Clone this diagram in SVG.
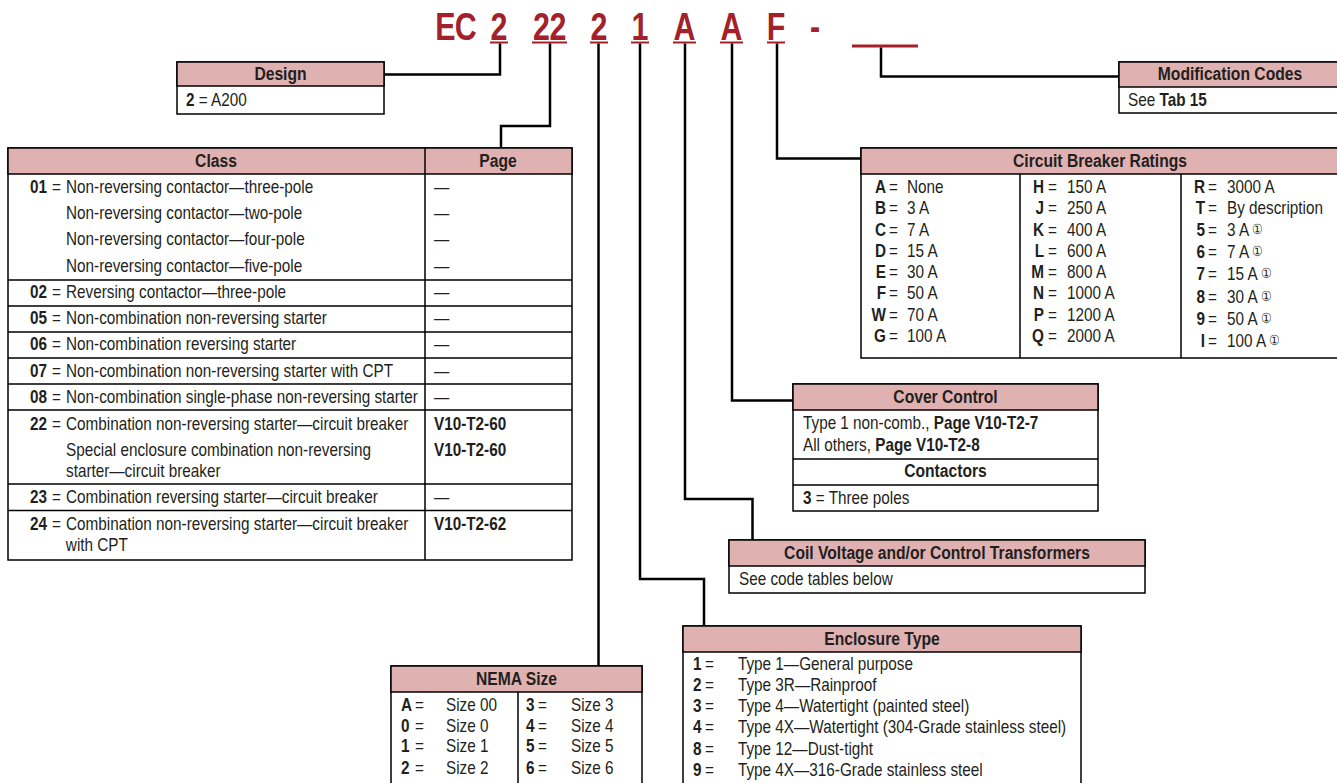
<svg xmlns="http://www.w3.org/2000/svg" width="1337" height="783" viewBox="0 0 1337 783">
<style>
.t{font-family:"Liberation Sans",Arial,sans-serif;font-size:18px;fill:#231f20;transform-box:fill-box;transform-origin:0 0;transform:scaleX(0.85)}
.b{font-weight:bold}
.h{font-weight:bold;text-anchor:middle;transform-origin:50% 0;transform:scaleX(0.87)}
.e{text-anchor:end;font-weight:bold;transform-origin:100% 0}
.c{font-size:14px;font-weight:normal}
.box{fill:#fff;stroke:#000;stroke-width:1.5}
.hdr{fill:#e0b1b1;stroke:#000;stroke-width:1.5}
.ln{stroke:#000;stroke-width:1.5;fill:none}
.conn{fill:none;stroke:#000;stroke-width:2.5}
.code{font-family:"Liberation Sans",Arial,sans-serif;font-weight:bold;font-size:38px;fill:#a3212a;text-anchor:middle;transform-box:fill-box;transform-origin:50% 0;transform:scaleX(0.8)}
.ul{fill:#a3212a}
</style>
<rect width="1337" height="783" fill="#fff"/>

<g id="catalog-code">
<text class="code" x="455.5" y="40" letter-spacing="-1">EC</text>
<text class="code" x="499" y="40">2</text>
<text class="code" x="549.5" y="40" letter-spacing="-0.5">22</text>
<text class="code" x="599" y="40">2</text>
<text class="code" x="640" y="40">1</text>
<text class="code" x="684.5" y="40">A</text>
<text class="code" x="731.5" y="40">A</text>
<text class="code" x="776" y="40">F</text>
<text class="code" x="815" y="40">-</text>
<rect class="ul" x="490" y="41.5" width="18" height="2"/>
<rect class="ul" x="532" y="41.5" width="35" height="2"/>
<rect class="ul" x="590" y="41.5" width="18" height="2"/>
<rect class="ul" x="631" y="41.5" width="18" height="2"/>
<rect class="ul" x="673" y="41.5" width="23" height="2"/>
<rect class="ul" x="720" y="41.5" width="23" height="2"/>
<rect class="ul" x="767" y="41.5" width="18" height="2"/>
<rect class="ul" x="852" y="44.5" width="66" height="3"/>
</g>

<g id="connectors">
<path class="conn" d="M500,43.5 V74.5 H384"/>
<path class="conn" d="M550,43.5 V126 H501 V148"/>
<path class="conn" d="M598.5,43.5 V666"/>
<path class="conn" d="M640,43.5 V579 H704 V626"/>
<path class="conn" d="M685,43.5 V499 H752.5 V540"/>
<path class="conn" d="M732,43.5 V400.5 H793"/>
<path class="conn" d="M777,43.5 V158.5 H861"/>
<path class="conn" d="M881,47.5 V76.5 H1119"/>
</g>

<g id="design">
<rect class="box" x="177" y="62" width="207" height="52"/>
<rect class="hdr" x="177" y="62" width="207" height="24"/>
<text class="t h" x="280.5" y="80">Design</text>
<text class="t" x="186" y="106"><tspan class="b">2</tspan> = A200</text>
</g>

<g id="class">
<rect class="box" x="8" y="148" width="564" height="412"/>
<rect class="hdr" x="8" y="148" width="564" height="26"/>
<text class="t h" x="216" y="167">Class</text>
<text class="t h" x="498" y="167">Page</text>
<path class="ln" d="M425,148 V560 M8,280 H572 M8,306 H572 M8,332 H572 M8,358 H572 M8,384 H572 M8,410 H572 M8,484 H572 M8,510.5 H572"/>
<text class="t b" x="30" y="193">01</text><text class="t" x="52" y="193">=</text><text class="t" x="66" y="193">Non-reversing contactor—three-pole</text>
<text class="t" x="66" y="219">Non-reversing contactor—two-pole</text>
<text class="t" x="66" y="245">Non-reversing contactor—four-pole</text>
<text class="t" x="66" y="272">Non-reversing contactor—five-pole</text>
<text class="t b" x="30" y="298">02</text><text class="t" x="52" y="298">=</text><text class="t" x="66" y="298">Reversing contactor—three-pole</text>
<text class="t b" x="30" y="324">05</text><text class="t" x="52" y="324">=</text><text class="t" x="66" y="324">Non-combination non-reversing starter</text>
<text class="t b" x="30" y="350">06</text><text class="t" x="52" y="350">=</text><text class="t" x="66" y="350">Non-combination reversing starter</text>
<text class="t b" x="30" y="377">07</text><text class="t" x="52" y="377">=</text><text class="t" x="66" y="377">Non-combination non-reversing starter with CPT</text>
<text class="t b" x="30" y="403">08</text><text class="t" x="52" y="403">=</text><text class="t" x="66" y="403">Non-combination single-phase non-reversing starter</text>
<text class="t b" x="30" y="430">22</text><text class="t" x="52" y="430">=</text><text class="t" x="66" y="430">Combination non-reversing starter—circuit breaker</text>
<text class="t" x="66" y="456">Special enclosure combination non-reversing</text>
<text class="t" x="66" y="477">starter—circuit breaker</text>
<text class="t b" x="30" y="503">23</text><text class="t" x="52" y="503">=</text><text class="t" x="66" y="503">Combination reversing starter—circuit breaker</text>
<text class="t b" x="30" y="530">24</text><text class="t" x="52" y="530">=</text><text class="t" x="66" y="530">Combination non-reversing starter—circuit breaker</text>
<text class="t" x="66" y="551">with CPT</text>
<text class="t" x="434" y="193">—</text>
<text class="t" x="434" y="219">—</text>
<text class="t" x="434" y="245">—</text>
<text class="t" x="434" y="272">—</text>
<text class="t" x="434" y="298">—</text>
<text class="t" x="434" y="324">—</text>
<text class="t" x="434" y="350">—</text>
<text class="t" x="434" y="377">—</text>
<text class="t" x="434" y="403">—</text>
<text class="t b" x="434" y="430">V10-T2-60</text>
<text class="t b" x="434" y="456">V10-T2-60</text>
<text class="t" x="434" y="503">—</text>
<text class="t b" x="434" y="530">V10-T2-62</text>
</g>

<g id="modification-codes">
<rect class="box" x="1119" y="62" width="225" height="51"/>
<rect class="hdr" x="1119" y="62" width="225" height="25"/>
<text class="t h" x="1230" y="80">Modification Codes</text>
<text class="t" x="1128" y="106">See <tspan class="b">Tab 15</tspan></text>
</g>

<g id="circuit-breaker-ratings">
<rect class="box" x="861" y="148" width="480" height="210"/>
<rect class="hdr" x="861" y="148" width="480" height="26"/>
<text class="t h" x="1100" y="167">Circuit Breaker Ratings</text>
<path class="ln" d="M1020,174 V358 M1181,174 V358"/>
<text class="t e" x="886" y="193">A</text><text class="t" x="889" y="193">=</text><text class="t" x="907" y="193">None</text>
<text class="t e" x="886" y="214">B</text><text class="t" x="889" y="214">=</text><text class="t" x="907" y="214">3 A</text>
<text class="t e" x="886" y="236">C</text><text class="t" x="889" y="236">=</text><text class="t" x="907" y="236">7 A</text>
<text class="t e" x="886" y="257">D</text><text class="t" x="889" y="257">=</text><text class="t" x="907" y="257">15 A</text>
<text class="t e" x="886" y="278">E</text><text class="t" x="889" y="278">=</text><text class="t" x="907" y="278">30 A</text>
<text class="t e" x="886" y="299">F</text><text class="t" x="889" y="299">=</text><text class="t" x="907" y="299">50 A</text>
<text class="t e" x="886" y="321">W</text><text class="t" x="889" y="321">=</text><text class="t" x="907" y="321">70 A</text>
<text class="t e" x="886" y="342">G</text><text class="t" x="889" y="342">=</text><text class="t" x="907" y="342">100 A</text>
<text class="t e" x="1044" y="193">H</text><text class="t" x="1048" y="193">=</text><text class="t" x="1067" y="193">150 A</text>
<text class="t e" x="1044" y="214">J</text><text class="t" x="1048" y="214">=</text><text class="t" x="1067" y="214">250 A</text>
<text class="t e" x="1044" y="236">K</text><text class="t" x="1048" y="236">=</text><text class="t" x="1067" y="236">400 A</text>
<text class="t e" x="1044" y="257">L</text><text class="t" x="1048" y="257">=</text><text class="t" x="1067" y="257">600 A</text>
<text class="t e" x="1044" y="278">M</text><text class="t" x="1048" y="278">=</text><text class="t" x="1067" y="278">800 A</text>
<text class="t e" x="1044" y="299">N</text><text class="t" x="1048" y="299">=</text><text class="t" x="1067" y="299">1000 A</text>
<text class="t e" x="1044" y="321">P</text><text class="t" x="1048" y="321">=</text><text class="t" x="1067" y="321">1200 A</text>
<text class="t e" x="1044" y="342">Q</text><text class="t" x="1048" y="342">=</text><text class="t" x="1067" y="342">2000 A</text>
<text class="t e" x="1205" y="193">R</text><text class="t" x="1208" y="193">=</text><text class="t" x="1227" y="193">3000 A</text>
<text class="t e" x="1205" y="214">T</text><text class="t" x="1208" y="214">=</text><text class="t" x="1227" y="214">By description</text>
<text class="t e" x="1205" y="236">5</text><text class="t" x="1208" y="236">=</text><text class="t" x="1227" y="236">3 A <tspan class="c" dy="-2">①</tspan></text>
<text class="t e" x="1205" y="258">6</text><text class="t" x="1208" y="258">=</text><text class="t" x="1227" y="258">7 A <tspan class="c" dy="-2">①</tspan></text>
<text class="t e" x="1205" y="280">7</text><text class="t" x="1208" y="280">=</text><text class="t" x="1227" y="280">15 A <tspan class="c" dy="-2">①</tspan></text>
<text class="t e" x="1205" y="303">8</text><text class="t" x="1208" y="303">=</text><text class="t" x="1227" y="303">30 A <tspan class="c" dy="-2">①</tspan></text>
<text class="t e" x="1205" y="325">9</text><text class="t" x="1208" y="325">=</text><text class="t" x="1227" y="325">50 A <tspan class="c" dy="-2">①</tspan></text>
<text class="t e" x="1205" y="347">I</text><text class="t" x="1208" y="347">=</text><text class="t" x="1227" y="347">100 A <tspan class="c" dy="-2">①</tspan></text>
</g>

<g id="cover-control">
<rect class="box" x="793" y="384" width="305" height="127"/>
<rect class="hdr" x="793" y="384" width="305" height="26"/>
<text class="t h" x="945.5" y="403">Cover Control</text>
<text class="t" x="803" y="429">Type 1 non-comb., <tspan class="b">Page V10-T2-7</tspan></text>
<text class="t" x="803" y="451">All others, <tspan class="b">Page V10-T2-8</tspan></text>
<path class="ln" d="M793,459 H1098 M793,485 H1098"/>
<text class="t h" x="945.5" y="477">Contactors</text>
<text class="t" x="803" y="504"><tspan class="b">3</tspan> = Three poles</text>
</g>

<g id="coil-voltage">
<rect class="box" x="729" y="540" width="416" height="53"/>
<rect class="hdr" x="729" y="540" width="416" height="26"/>
<text class="t h" x="937" y="559">Coil Voltage and/or Control Transformers</text>
<text class="t" x="739" y="585">See code tables below</text>
</g>

<g id="enclosure-type">
<rect class="box" x="683" y="626" width="398" height="170"/>
<rect class="hdr" x="683" y="626" width="398" height="26"/>
<text class="t h" x="882" y="645">Enclosure Type</text>
<text class="t b" x="693" y="670">1</text><text class="t" x="705" y="670">=</text><text class="t" x="738" y="670">Type 1—General purpose</text>
<text class="t b" x="693" y="691">2</text><text class="t" x="705" y="691">=</text><text class="t" x="738" y="691">Type 3R—Rainproof</text>
<text class="t b" x="693" y="712">3</text><text class="t" x="705" y="712">=</text><text class="t" x="738" y="712">Type 4—Watertight (painted steel)</text>
<text class="t b" x="693" y="733">4</text><text class="t" x="705" y="733">=</text><text class="t" x="738" y="733">Type 4X—Watertight (304-Grade stainless steel)</text>
<text class="t b" x="693" y="755">8</text><text class="t" x="705" y="755">=</text><text class="t" x="738" y="755">Type 12—Dust-tight</text>
<text class="t b" x="693" y="776">9</text><text class="t" x="705" y="776">=</text><text class="t" x="738" y="776">Type 4X—316-Grade stainless steel</text>
</g>

<g id="nema-size">
<rect class="box" x="391" y="666" width="251" height="130"/>
<rect class="hdr" x="391" y="666" width="251" height="26"/>
<text class="t h" x="516.5" y="685">NEMA Size</text>
<path class="ln" d="M518,692 V796"/>
<text class="t b" x="401" y="711">A</text><text class="t" x="415" y="711">=</text><text class="t" x="446" y="711">Size 00</text>
<text class="t b" x="401" y="732">0</text><text class="t" x="415" y="732">=</text><text class="t" x="446" y="732">Size 0</text>
<text class="t b" x="401" y="752">1</text><text class="t" x="415" y="752">=</text><text class="t" x="446" y="752">Size 1</text>
<text class="t b" x="401" y="774">2</text><text class="t" x="415" y="774">=</text><text class="t" x="446" y="774">Size 2</text>
<text class="t b" x="526" y="711">3</text><text class="t" x="538" y="711">=</text><text class="t" x="571" y="711">Size 3</text>
<text class="t b" x="526" y="732">4</text><text class="t" x="538" y="732">=</text><text class="t" x="571" y="732">Size 4</text>
<text class="t b" x="526" y="752">5</text><text class="t" x="538" y="752">=</text><text class="t" x="571" y="752">Size 5</text>
<text class="t b" x="526" y="774">6</text><text class="t" x="538" y="774">=</text><text class="t" x="571" y="774">Size 6</text>
</g>
</svg>
